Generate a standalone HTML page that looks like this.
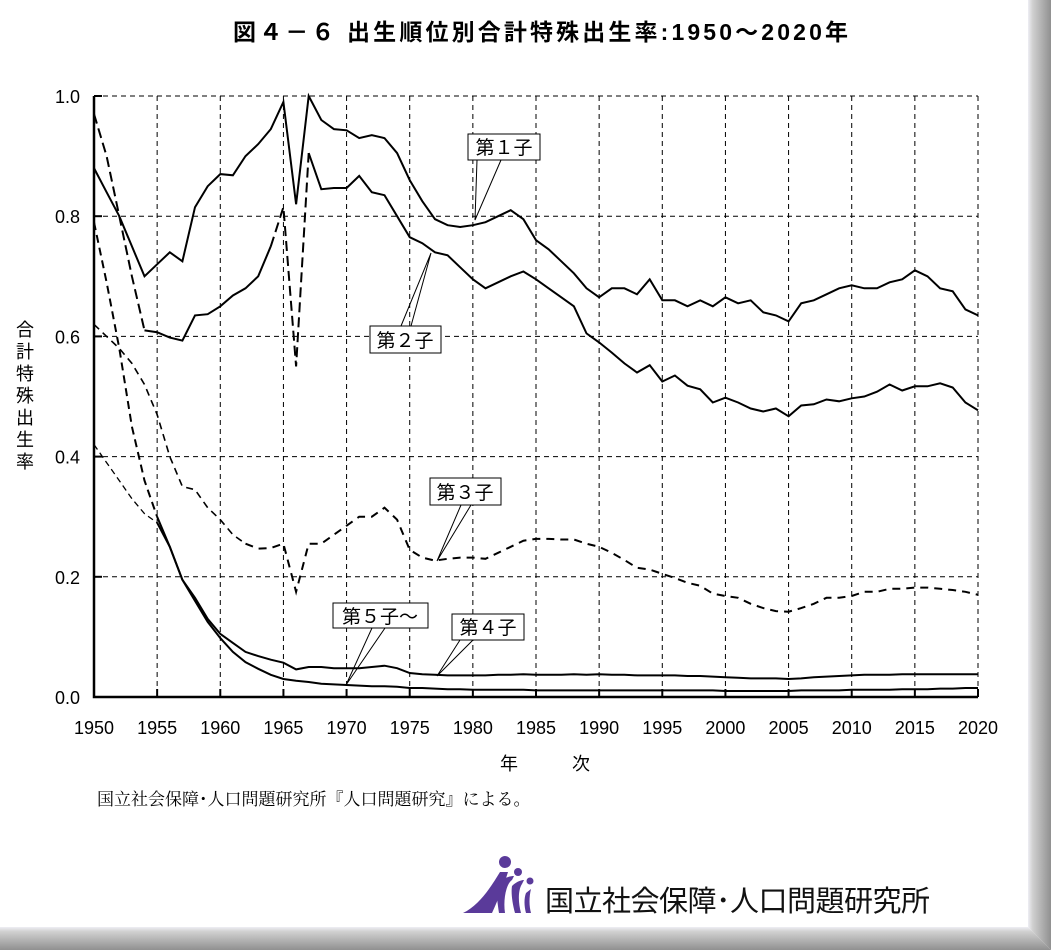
<!DOCTYPE html>
<html><head><meta charset="utf-8">
<style>
html,body{margin:0;padding:0;background:#fff;}
body{width:1051px;height:950px;position:relative;overflow:hidden;font-family:"Liberation Sans","Noto Sans CJK JP",sans-serif;}
svg{position:absolute;left:0;top:0;}
</style></head><body>
<svg id="s" width="1051" height="950" xmlns="http://www.w3.org/2000/svg">
<defs>
<linearGradient id="gr" x1="0" x2="1" y1="0" y2="0"><stop offset="0" stop-color="#eeeef4"/><stop offset="0.2" stop-color="#d0d0d0"/><stop offset="1" stop-color="#909090"/></linearGradient>
<linearGradient id="gb" x1="0" x2="0" y1="0" y2="1"><stop offset="0" stop-color="#eeeef4"/><stop offset="0.2" stop-color="#d0d0d0"/><stop offset="1" stop-color="#909090"/></linearGradient>
</defs>
<polygon points="1028,0 1051,0 1051,950 1028,927" fill="url(#gr)"/>
<polygon points="0,927 1028,927 1051,950 0,950" fill="url(#gb)"/>
<text x="233" y="40" textLength="615" lengthAdjust="spacing" font-size="23" font-weight="bold" font-family="Liberation Sans,Noto Sans CJK JP,sans-serif">図４－６ 出生順位別合計特殊出生率:1950～2020年</text>
<g id="grid" stroke="#000" stroke-width="1" stroke-dasharray="5,4" fill="none"></g>
<g id="axes"></g>
<g id="series" fill="none" stroke="#000"></g>
<g font-size="18" text-anchor="end" id="ylab"></g>
<g font-size="18" text-anchor="middle" id="xlab"></g>
<text x="545" y="770" text-anchor="middle" font-size="18">年　　　次</text>
<g font-size="18" text-anchor="middle" font-family="Noto Sans CJK JP,sans-serif">
<text x="25" y="336">合</text><text x="25" y="358">計</text><text x="25" y="380">特</text><text x="25" y="402">殊</text><text x="25" y="424">出</text><text x="25" y="446">生</text><text x="25" y="468">率</text>
</g>
<g stroke="#000" stroke-width="1" fill="#fff" font-size="19">
<polyline points="477,160 475,220 501,160" fill="none"/>
<rect x="468" y="134" width="72" height="26"/>
<text x="504" y="154" text-anchor="middle" stroke="none" fill="#000">第１子</text>
<polyline points="401,326 431,253 411,326" fill="none"/>
<rect x="370" y="326" width="71" height="27"/>
<text x="405" y="347" text-anchor="middle" stroke="none" fill="#000">第２子</text>
<polyline points="461,505 437,561 471,505" fill="none"/>
<rect x="430" y="478" width="71" height="27"/>
<text x="465" y="499" text-anchor="middle" stroke="none" fill="#000">第３子</text>
<polyline points="372,628 346,685 385,628" fill="none"/>
<rect x="333" y="603" width="95" height="25"/>
<text x="380" y="623" text-anchor="middle" stroke="none" fill="#000">第５子～</text>
<polyline points="460,640 437,676 473,640" fill="none"/>
<rect x="452" y="614" width="72" height="26"/>
<text x="488" y="634" text-anchor="middle" stroke="none" fill="#000">第４子</text>
</g>
<text x="97" y="805" font-size="17" font-family="Liberation Serif,Noto Serif CJK SC,serif">国立社会保障･人口問題研究所『人口問題研究』による。</text>
<g fill="#5a3a9a">
<circle cx="505" cy="862" r="6"/>
<path d="M463,913 C480,905 492,885 500,872 L508,872 C503,888 497,902 492,913 Z"/>
<path d="M497,884 C502,878 510,876 514,876 L512,880 C506,884 503,900 505,913 L499,913 C497,900 496,890 497,884Z"/>
<circle cx="518" cy="872" r="4"/>
<path d="M512,886 C517,881 522,880 524,880 L522,884 C518,890 518,902 521,913 L515,913 C512,902 511,892 512,886Z"/>
<circle cx="530" cy="881" r="3.5"/>
<path d="M526,893 L531,889 C529,897 529,906 531,913 L526,913 C524,906 524,898 526,893Z"/>
</g>
<text x="545" y="911" font-size="29" textLength="385" font-family="Noto Sans CJK JP,sans-serif" fill="#111">国立社会保障･人口問題研究所</text>
</svg>
<script>
const NS="http://www.w3.org/2000/svg";
const X=y=>94+(y-1950)*884/70, Y=v=>697-601*v;
function el(p,t,a,txt){const e=document.createElementNS(NS,t);for(const k in a)e.setAttribute(k,a[k]);if(txt)e.textContent=txt;document.getElementById(p).appendChild(e);return e;}
for(let y=1955;y<=2020;y+=5)el('grid','line',{x1:X(y),x2:X(y),y1:96,y2:697});
for(let i=1;i<=5;i++)el('grid','line',{x1:94,x2:978,y1:Y(i/5),y2:Y(i/5)});
el('axes','path',{d:'M94,96 V697 H978',stroke:'#000','stroke-width':2.5,fill:'none'});
for(let y=1950;y<=2020;y+=5)el('axes','line',{x1:X(y),x2:X(y),y1:697,y2:689,stroke:'#000','stroke-width':2});
for(let i=0;i<=5;i++)el('axes','line',{x1:94,x2:102,y1:Y(i/5),y2:Y(i/5),stroke:'#000','stroke-width':2});
for(let i=0;i<=5;i++)el('ylab','text',{x:80,y:Y(i/5)+7},(i/5).toFixed(1));
for(let y=1950;y<=2020;y+=5)el('xlab','text',{x:X(y),y:734},String(y));
const s1=[.88,.84,.80,.75,.70,.72,.74,.725,.815,.85,.87,.868,.90,.92,.945,.99,.82,1.0,.96,.945,.943,.93,.935,.93,.905,.86,.825,.795,.785,.782,.785,.79,.80,.81,.795,.76,.745,.725,.705,.68,.665,.68,.68,.67,.695,.66,.66,.65,.66,.65,.665,.655,.66,.64,.635,.625,.655,.66,.67,.68,.685,.68,.68,.69,.695,.71,.70,.68,.675,.645,.635];
const s2=[.97,.90,.80,.70,.61,.607,.598,.593,.635,.637,.65,.668,.68,.70,.75,.815,.55,.905,.845,.847,.847,.867,.84,.835,.80,.765,.755,.74,.735,.715,.695,.68,.69,.70,.708,.695,.68,.665,.65,.605,.59,.573,.555,.54,.552,.525,.535,.518,.512,.49,.498,.49,.48,.475,.48,.467,.485,.487,.495,.492,.497,.50,.508,.52,.51,.517,.517,.522,.515,.49,.477];
const s3=[.62,.60,.58,.555,.52,.47,.40,.35,.345,.315,.295,.27,.255,.247,.248,.255,.175,.255,.255,.27,.285,.30,.30,.315,.295,.245,.232,.227,.23,.232,.232,.23,.24,.25,.26,.263,.263,.262,.262,.255,.25,.24,.228,.215,.212,.205,.198,.19,.185,.172,.168,.165,.155,.148,.143,.142,.148,.155,.165,.165,.168,.175,.175,.18,.18,.182,.182,.18,.178,.175,.17];
const s4=[.79,.69,.58,.45,.36,.30,.25,.195,.165,.13,.105,.09,.075,.068,.062,.057,.046,.05,.05,.048,.048,.048,.05,.052,.048,.04,.038,.037,.036,.036,.036,.036,.037,.037,.038,.037,.037,.037,.038,.037,.038,.037,.037,.036,.036,.036,.036,.035,.035,.034,.033,.032,.031,.031,.031,.03,.031,.033,.034,.035,.036,.037,.037,.037,.038,.038,.038,.038,.038,.038,.038];
const s5=[.42,.39,.36,.33,.305,.29,.25,.195,.16,.125,.098,.075,.058,.047,.037,.03,.027,.025,.022,.021,.02,.019,.018,.018,.017,.015,.015,.014,.013,.013,.012,.012,.012,.012,.012,.011,.011,.011,.011,.011,.011,.011,.011,.011,.011,.011,.011,.011,.011,.011,.01,.01,.01,.01,.01,.01,.011,.011,.011,.011,.012,.012,.012,.012,.013,.013,.013,.014,.014,.015,.015];
function seg(d,a,b,st){let p='';for(let i=a;i<=b;i++)p+=(i==a?'M':'L')+X(1950+i).toFixed(1)+','+Y(d[i]).toFixed(1);const e=el('series','path',{d:p,'stroke-width':st.w||2});if(st.da)e.setAttribute('stroke-dasharray',st.da);}
seg(s1,0,70,{w:2});
seg(s2,0,4,{w:2,da:'10,5'});seg(s2,4,14,{w:2});seg(s2,14,17,{w:2,da:'10,5'});seg(s2,17,70,{w:2});
seg(s3,0,12,{w:1.6,da:'7,5'});seg(s3,12,70,{w:2,da:'8,6'});
seg(s4,0,5,{w:2,da:'8,5'});seg(s4,5,70,{w:2});
seg(s5,0,5,{w:1.3,da:'6,4'});seg(s5,5,70,{w:2});
</script>
</body></html>
